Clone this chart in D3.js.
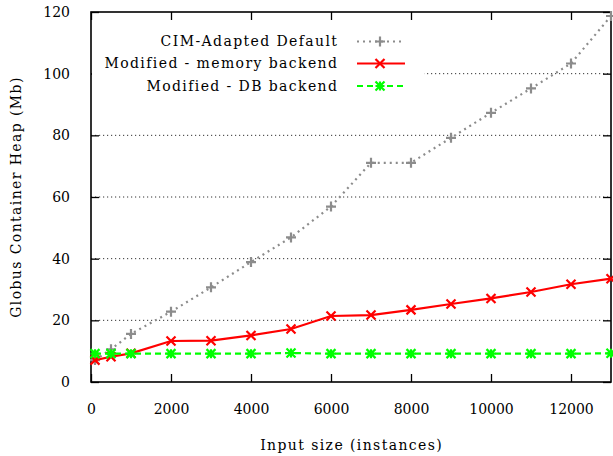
<!DOCTYPE html>
<html>
<head>
<meta charset="utf-8">
<script src="https://cdn.jsdelivr.net/npm/d3@7"></script>
<style>
  html, body { margin: 0; padding: 0; background: #fff; }
  svg { display: block; }
  text { font-family: "DejaVu Serif", "Liberation Serif", serif; fill: #000; }
</style>
</head>
<body>
<svg id="chart" width="613" height="456"></svg>
<script>
// ---- Data ----
const inputSizes = [100, 500, 1000, 2000, 3000, 4000, 5000, 6000, 7000, 8000, 9000, 10000, 11000, 12000, 13000];
const cimDefault = [7.1, 10.6, 15.6, 22.8, 30.7, 38.9, 46.9, 56.9, 71.1, 71.1, 79.2, 87.3, 95.2, 103.3, 118.7];
const memoryBackend = [7.1, 8.2, 9.3, 13.3, 13.4, 15.1, 17.2, 21.4, 21.7, 23.4, 25.3, 27.1, 29.2, 31.7, 33.5];
const dbBackend = [9.2, 9.2, 9.2, 9.2, 9.2, 9.2, 9.4, 9.2, 9.2, 9.2, 9.2, 9.2, 9.2, 9.2, 9.3];
const seriesNames = ["CIM-Adapted Default", "Modified - memory backend", "Modified - DB backend"];
const xTicks = [0, 2000, 4000, 6000, 8000, 10000, 12000];
const yTicks = [0, 20, 40, 60, 80, 100, 120];
const xTitle = "Input size (instances)";
const yTitle = "Globus Container Heap (Mb)";

(function () {
const series = [
  { name: seriesNames[0], values: cimDefault, color: "#8c8c8c", dash: "2,4", marker: "plus" },
  { name: seriesNames[1], values: memoryBackend, color: "#ff0000", dash: null, marker: "cross" },
  { name: seriesNames[2], values: dbBackend, color: "#00ff00", dash: "6,4", marker: "star" }
];

const svg = d3.select("#chart");
const pL = 91, pR = 611, pT = 12, pB = 382;
const x = d3.scaleLinear().domain([0, 13000]).range([pL, pR]);
const y = d3.scaleLinear().domain([0, 120]).range([pB, pT]);
const ls = 1.4;

// gridlines
svg.append("g").selectAll("line").data(yTicks.filter(v => v > 0 && v < 120)).enter().append("line")
  .attr("x1", pL).attr("x2", pR)
  .attr("y1", d => y(d)).attr("y2", d => y(d))
  .attr("stroke", "#333").attr("stroke-width", 1).attr("stroke-dasharray", "1.2,2.8");

const tickLen = 8;
const fontSize = 14;
const bottomAxis = d3.axisBottom(x).tickValues(xTicks).tickSize(-tickLen).tickPadding(22).tickFormat(d3.format("d"));
const topAxis = d3.axisTop(x).tickValues(xTicks).tickSize(-tickLen).tickFormat("");
const leftAxis = d3.axisLeft(y).tickValues(yTicks).tickSize(-tickLen).tickPadding(21).tickFormat(d3.format("d"));
const rightAxis = d3.axisRight(y).tickValues(yTicks).tickSize(-tickLen).tickFormat("");

function styleAxis(g) {
  g.select(".domain").remove();
  g.selectAll(".tick line").attr("stroke", "#000").attr("stroke-width", 1.3);
  g.selectAll(".tick text").attr("font-family", "DejaVu Serif").attr("font-size", fontSize).attr("fill", "#000");
}
svg.append("g").attr("transform", `translate(0,${pB})`).call(bottomAxis).call(styleAxis);
svg.append("g").attr("transform", `translate(0,${pT})`).call(topAxis).call(styleAxis);
svg.append("g").attr("transform", `translate(${pL},0)`).call(leftAxis).call(styleAxis);
svg.append("g").attr("transform", `translate(${pR},0)`).call(rightAxis).call(styleAxis);

const legendRows = [41.5, 63.5, 86];
svg.append("rect").attr("x", pL + 1).attr("y", 26).attr("width", 424 - pL - 1).attr("height", 74).attr("fill", "#fff");

svg.append("rect").attr("x", pL).attr("y", pT).attr("width", pR - pL).attr("height", pB - pT)
  .attr("fill", "none").attr("stroke", "#000").attr("stroke-width", 1.6);

function markerPath(type, s) {
  const p = d3.path();
  if (type === "plus" || type === "star") {
    p.moveTo(-s, 0); p.lineTo(s, 0); p.moveTo(0, -s); p.lineTo(0, s);
  }
  if (type === "cross" || type === "star") {
    p.moveTo(-s, -s); p.lineTo(s, s); p.moveTo(-s, s); p.lineTo(s, -s);
  }
  return p.toString();
}

const line = d3.line().x(d => x(d[0])).y(d => y(d[1]));
series.forEach(s => {
  const pts = inputSizes.map((v, i) => [v, s.values[i]]);
  const g = svg.append("g");
  g.append("path").datum(pts).attr("d", line).attr("fill", "none")
    .attr("stroke", s.color).attr("stroke-width", 2.2)
    .attr("stroke-dasharray", s.dash);
  g.selectAll(".m").data(pts).enter().append("path")
    .attr("transform", d => `translate(${x(d[0])},${y(d[1])})`)
    .attr("d", markerPath(s.marker, s.marker === "plus" ? 5 : 4.5))
    .attr("fill", "none").attr("stroke", s.color).attr("stroke-width", 2.2);
});

series.forEach((s, i) => {
  const ly = legendRows[i];
  svg.append("text").attr("x", 337 + ls).attr("y", ly).attr("dy", "0.35em")
    .attr("text-anchor", "end").attr("font-size", fontSize).attr("letter-spacing", ls).text(s.name);
  svg.append("line").attr("x1", 357).attr("x2", 405).attr("y1", ly).attr("y2", ly)
    .attr("stroke", s.color).attr("stroke-width", 2.2).attr("stroke-dasharray", s.dash);
  svg.append("path").attr("transform", `translate(380,${ly})`)
    .attr("d", markerPath(s.marker, s.marker === "plus" ? 5 : 4.5))
    .attr("fill", "none").attr("stroke", s.color).attr("stroke-width", 2.2);
});

svg.append("text").attr("x", (pL + pR) / 2 + ls / 2).attr("y", 445).attr("dy", "0.35em")
  .attr("text-anchor", "middle").attr("font-size", fontSize).attr("letter-spacing", ls).text(xTitle);
svg.append("text").attr("transform", `translate(16,${(pT + pB) / 2}) rotate(-90)`).attr("dy", "0.35em")
  .attr("text-anchor", "middle").attr("font-size", fontSize).attr("letter-spacing", ls).text(yTitle);
})();
</script>
</body>
</html>
